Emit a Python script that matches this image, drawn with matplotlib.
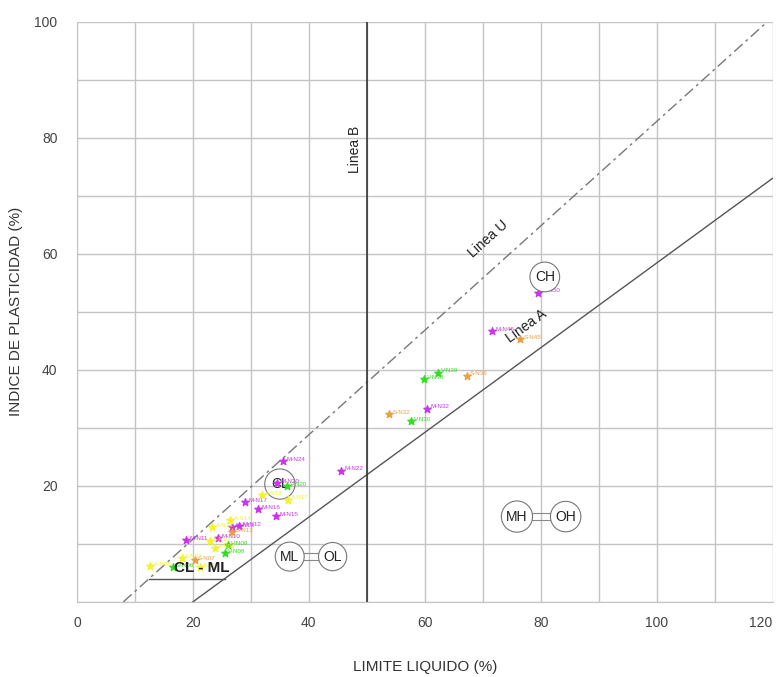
import matplotlib.pyplot as plt
import numpy as np

plt.rcParams['font.family'] = ['Liberation Sans', 'DejaVu Sans']

# muestras: limite liquido, indice de plasticidad, etiqueta
mag_ll = [79.5, 71.6, 60.3, 45.5, 35.5, 34.5, 29.0, 31.2, 34.3, 26.7, 28.0, 18.8, 24.3]
mag_pi = [53.3, 46.6, 33.3, 22.6, 24.3, 20.5, 17.2, 16.0, 14.8, 12.9, 13.0, 10.7, 11.0]
mag_lab = ['M-N50', 'M-N46', 'M-N32', 'M-N22', 'M-N24', 'M-N20', 'M-N17',
           'M-N16', 'M-N15', 'M-N13', 'M-N12', 'M-N11', 'M-N10']

grn_ll = [62.2, 59.8, 57.6, 36.2, 26.0, 25.5, 16.6]
grn_pi = [39.5, 38.4, 31.2, 20.0, 9.8, 8.4, 6.0]
grn_lab = ['V-N39', 'V-N38', 'V-N30', 'V-N20', 'V-N09', 'V-N08', 'V-N06']

org_ll = [67.2, 53.8, 76.4, 26.7, 20.3]
org_pi = [39.0, 32.4, 45.3, 12.0, 7.2]
org_lab = ['S-N39', 'S-N32', 'S-N45', 'S-N12', 'S-N07']

ylw_ll = [31.9, 36.4, 23.3, 22.9, 23.8, 12.6, 18.1, 21.2, 26.4]
ylw_pi = [18.4, 17.6, 12.9, 10.5, 9.3, 6.2, 7.6, 6.0, 14.1]
ylw_lab = ['A-N18', 'A-N17', 'A-N13', 'A-N10', 'A-N09', 'A-N06', 'A-N07', 'A-N06', 'A-N14']

xt = [0, 20, 40, 60, 80, 100, 120]
yt = [20, 40, 60, 80, 100]

fig = plt.figure(figsize=(7.79, 6.77), dpi=100)
ax = fig.add_axes([0.0988, 0.111, 0.893, 0.857])
ax.set_xlim(0, 120)
ax.set_ylim(0, 100)

ax.set_xticks(xt)
ax.set_xticks(np.arange(0, 121, 10), minor=True)
ax.set_yticks(yt)
ax.set_yticks(np.arange(0, 101, 10), minor=True)
ax.grid(True, which='both', color='#c4c4c4', linewidth=1)
ax.tick_params(which='both', length=0, labelsize=10, colors='#444444')
ax.tick_params(axis='x', pad=10)
ax.tick_params(axis='y', pad=14)
lbls = ax.get_xticklabels()
lbls[-1].set_horizontalalignment('right')
lbls[-1].set_x(1.0)
for s in ax.spines.values():
    s.set_color('#c4c4c4')
ax.spines['top'].set_visible(False)
ax.spines['right'].set_visible(False)

ax.set_xlabel('LIMITE LIQUIDO (%)', fontsize=11, color='#333333', labelpad=22)
ax.set_ylabel('INDICE DE PLASTICIDAD (%)', fontsize=11, color='#333333', labelpad=8)

# lineas A, U y B
xa = np.array([20, 120])
ax.plot(xa, 0.73 * (xa - 20), color='#555555', lw=1)
xu = np.array([8, 8 + 100 / 0.9])
ax.plot(xu, 0.9 * (xu - 8), color='#777777', lw=1, dashes=(8, 3, 2, 3))
ax.plot([50, 50], [0, 100], color='#333333', lw=1.2)

ax.text(48, 78, 'Linea B', rotation=90, ha='center', va='center', fontsize=10, color='#222222')
ax.text(71, 62.5, 'Linea U', rotation=42, ha='center', va='center', fontsize=10, color='#222222')
ax.text(77.5, 47.5, 'Linea A', rotation=36, ha='center', va='center', fontsize=10, color='#222222')

# zona CL-ML
ax.plot([4 / 0.9 + 8, 4 / 0.73 + 20], [4, 4], color='#555555', lw=1)
ax.text(21.5, 5.8, 'CL - ML', ha='center', va='center', fontsize=11, fontweight='bold',
        color='#222222', zorder=6)

def circ(x, y, t):
    ax.text(x, y, t, ha='center', va='center', fontsize=10, color='#222222', zorder=5,
            bbox=dict(boxstyle='circle,pad=0.35', facecolor='white', edgecolor='#777777', lw=0.8))

# conectores
ax.plot([38.5, 42.5], [8.4, 8.4], color='#888888', lw=0.8)
ax.plot([38.5, 42.5], [7.2, 7.2], color='#888888', lw=0.8)
ax.plot([77.5, 82.5], [15.3, 15.3], color='#888888', lw=0.8)
ax.plot([77.5, 82.5], [14.1, 14.1], color='#888888', lw=0.8)

circ(80.7, 56, 'CH')
circ(36.7, 7.8, 'ML')
circ(44.1, 7.8, 'OL')
circ(75.9, 14.7, 'MH')
circ(84.3, 14.7, 'OH')
ax.text(35, 20.3, 'CL', ha='center', va='center', fontsize=10, color='#222222', zorder=3,
        bbox=dict(boxstyle='circle,pad=0.45', facecolor='none', edgecolor='#777777', lw=0.8))

series = [(mag_ll, mag_pi, mag_lab, '#cc33ee'),
          (grn_ll, grn_pi, grn_lab, '#33dd22'),
          (org_ll, org_pi, org_lab, '#e8a040'),
          (ylw_ll, ylw_pi, ylw_lab, '#f2f230')]
for xs, ys, labs, c in series:
    ax.scatter(xs, ys, marker='*', s=30, color=c, zorder=4)
    for x, y, l in zip(xs, ys, labs):
        ax.text(x + 0.6, y + 0.3, l, fontsize=4.5, color=c, va='center', zorder=4)

fig.savefig('out.png', dpi=100)
